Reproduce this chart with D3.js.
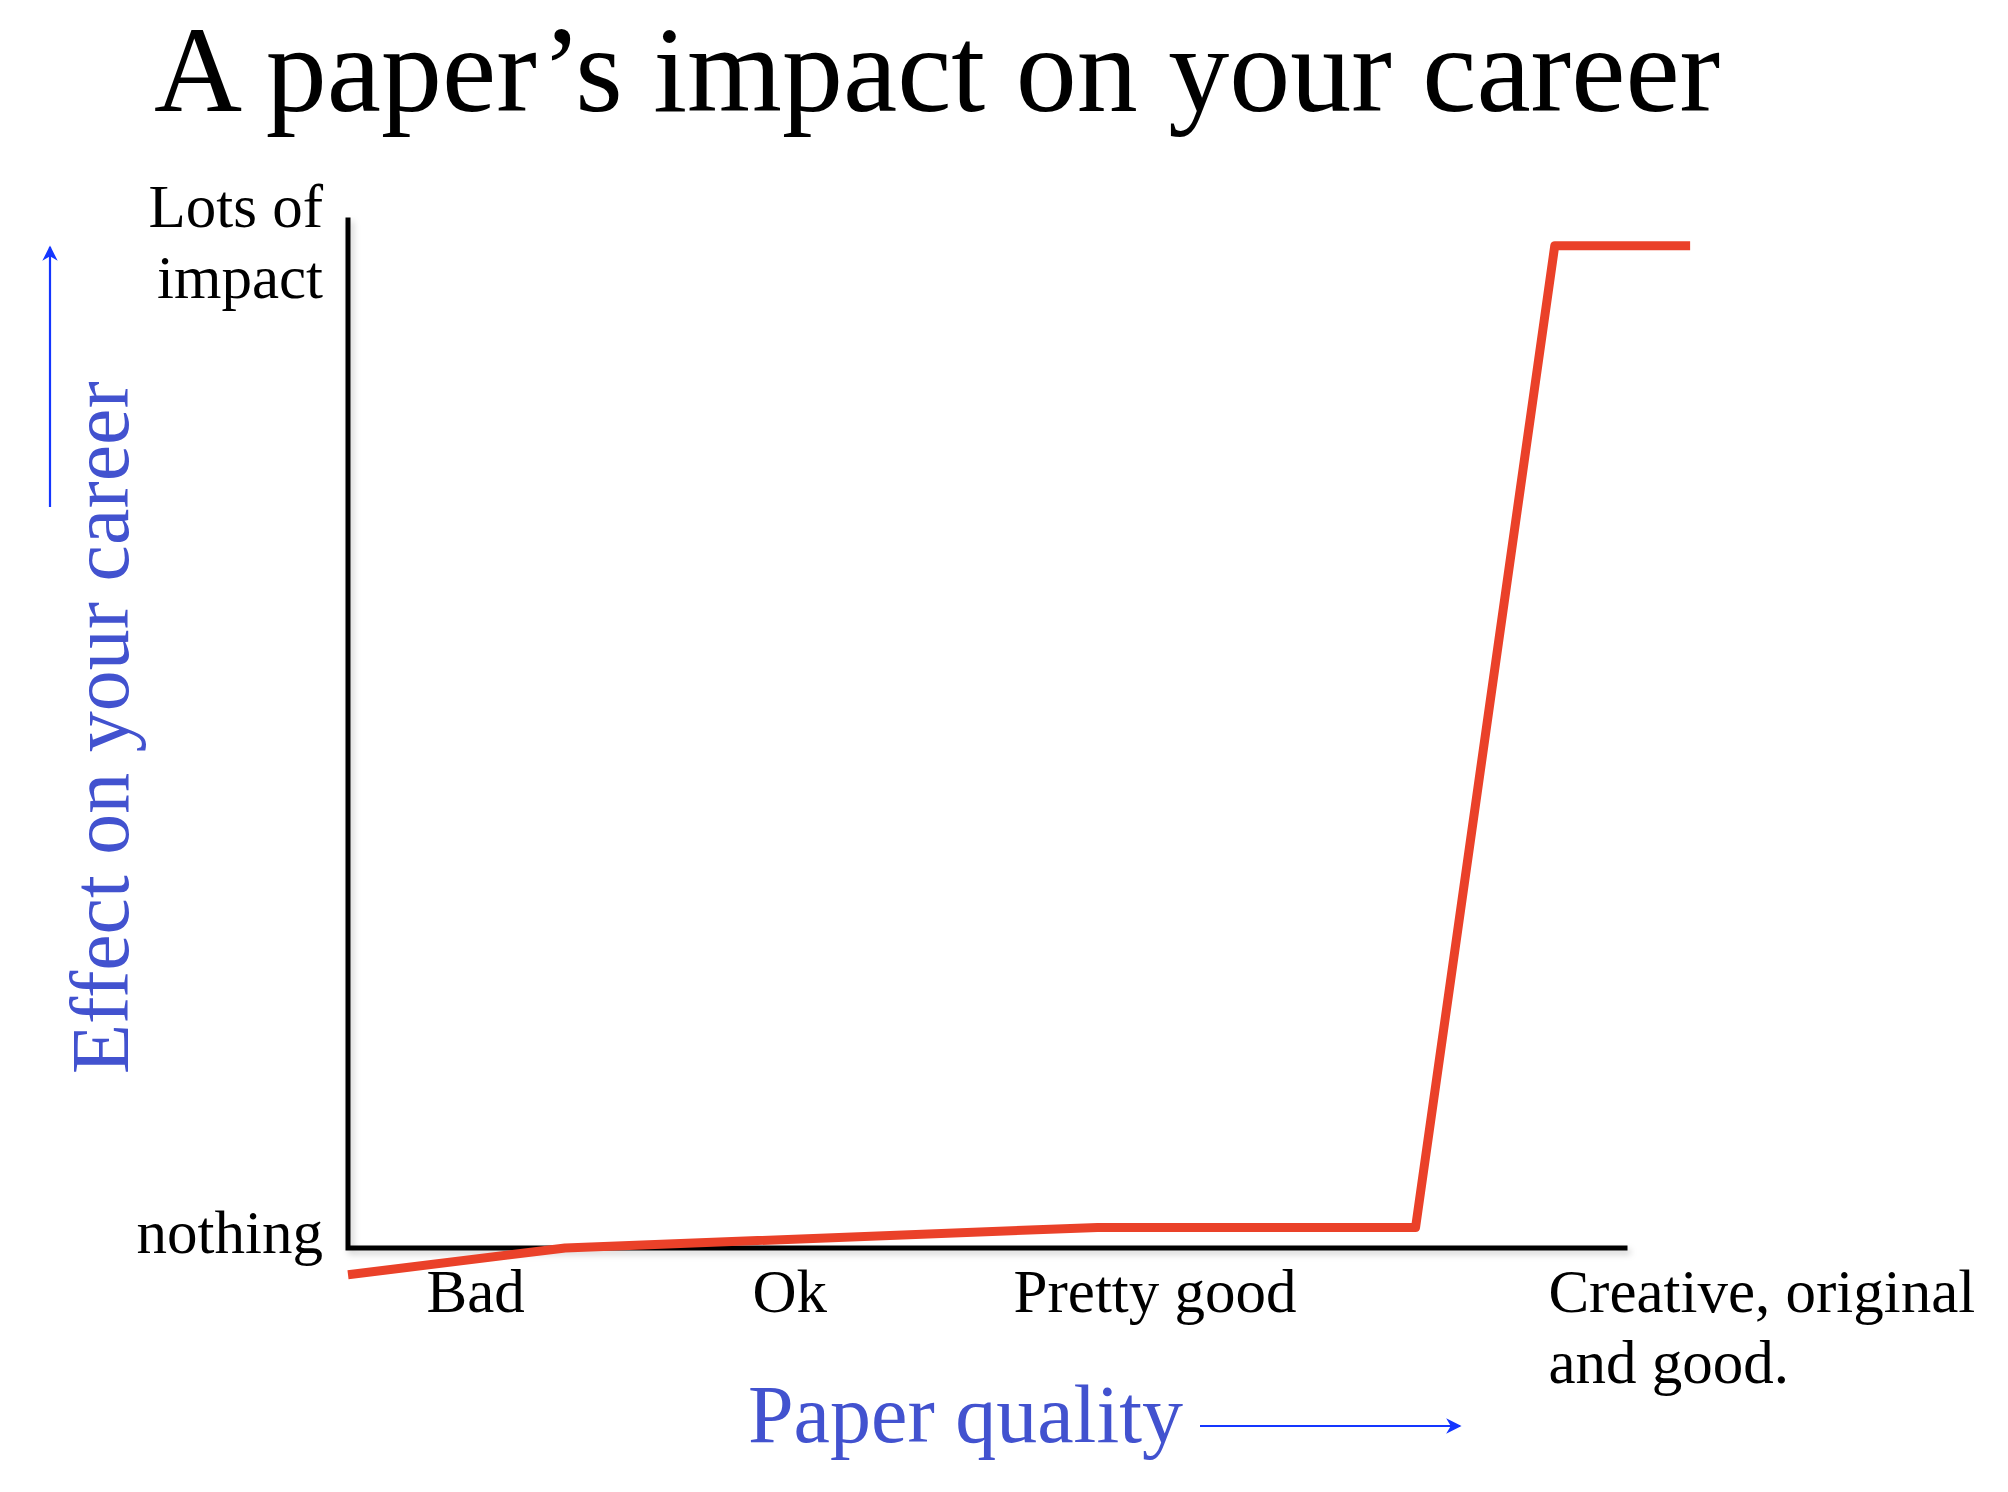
<!DOCTYPE html>
<meta charset="utf-8">
<style>
body { margin: 0; background: #fff; }
text { font-family: "Times New Roman", "Liberation Serif", serif; }
</style>
<svg width="2008" height="1492"></svg>
<script src="https://d3js.org/d3.v7.min.js"></script>
<script>

// data (quality 0..100 along x, impact 0..100 up y)
var quality = [0, 17, 58.7, 83.6, 94.5, 105.1];
var impact  = [-2.6, 0, 2.0, 2.0, 97.5, 97.5];

var xTickVals = [10, 34.6, 63.2, 94.0];
var xTickText = [["Bad"], ["Ok"], ["Pretty good"], ["Creative, original", "and good."]];
var yTickVals = [0, 100];
var yTickText = [["nothing"], ["Lots of", "impact"]];

var red_colour = "#ea4129";
var label_colour = "#4252cf";
var arrow_colour = "#1436ff";

var svg = d3.select("svg");

var x = d3.scaleLinear().domain([0, 100]).range([348, 1625]);
var y = d3.scaleLinear().domain([0, 100]).range([1248, 220]);

var defs = svg.append("defs");
var f = defs.append("filter").attr("id", "shadow")
    .attr("x", "-10%").attr("y", "-10%").attr("width", "130%").attr("height", "130%");
f.append("feDropShadow")
    .attr("dx", 3).attr("dy", 4).attr("stdDeviation", 3)
    .attr("flood-color", "#000").attr("flood-opacity", 0.18);

defs.append("marker")
    .attr("id", "arrowhead")
    .attr("viewBox", "0 0 10 10")
    .attr("refX", 9).attr("refY", 5)
    .attr("markerWidth", 7).attr("markerHeight", 7)
    .attr("markerUnits", "strokeWidth")
    .attr("orient", "auto")
    .append("path")
    .attr("d", "M0,0 L10,5 L0,10 L3,5 Z")
    .attr("fill", arrow_colour);

// title
svg.append("text")
   .attr("x", 154)
   .attr("y", 111)
   .style("font-size", "122px")
   .text("A paper\u2019s impact on your career");

// axes
var axes = svg.append("g").attr("filter", "url(#shadow)");
axes.append("path")
    .attr("d", "M" + x(0) + "," + y(100) + " V" + y(0) + " H" + x(100))
    .attr("fill", "none")
    .attr("stroke", "#000")
    .attr("stroke-width", 5)
    .attr("stroke-linecap", "square");

// the red curve
var pts = quality.map(function(q, i) { return [q, impact[i]]; });
var line = d3.line().x(function(d) { return x(d[0]); }).y(function(d) { return y(d[1]); });
svg.append("path")
   .attr("d", line(pts))
   .attr("fill", "none")
   .attr("stroke", red_colour)
   .attr("stroke-width", 9)
   .attr("stroke-linejoin", "round");

// x labels
xTickVals.forEach(function(v, i) {
  var t = svg.append("text")
     .attr("x", x(v))
     .attr("y", 1312)
     .style("font-size", "61px")
     .attr("text-anchor", i == xTickVals.length - 1 ? "start" : "middle");
  xTickText[i].forEach(function(s, j) {
    t.append("tspan").attr("x", x(v)).attr("dy", j == 0 ? 0 : 71).text(s);
  });
});

// y labels
var yOffsets = [5, 7];
yTickVals.forEach(function(v, i) {
  var t = svg.append("text")
     .attr("x", 323)
     .attr("y", y(v) + yOffsets[i])
     .style("font-size", "61px")
     .attr("text-anchor", "end");
  yTickText[i].forEach(function(s, j) {
    t.append("tspan").attr("x", 323).attr("dy", j == 0 ? 0 : 71).text(s);
  });
});

// axis titles
svg.append("text")
   .attr("x", 748)
   .attr("y", 1442)
   .style("font-size", "82px")
   .style("fill", label_colour)
   .text("Paper quality");

svg.append("text")
   .attr("transform", "translate(128,1074) rotate(-90)")
   .style("font-size", "82px")
   .style("fill", label_colour)
   .text("Effect on your career");

// arrows
svg.append("line")
   .attr("x1", 1200).attr("y1", 1426).attr("x2", 1460).attr("y2", 1426)
   .attr("stroke", arrow_colour).attr("stroke-width", 2.2)
   .attr("marker-end", "url(#arrowhead)");

svg.append("line")
   .attr("x1", 50).attr("y1", 507).attr("x2", 50).attr("y2", 247)
   .attr("stroke", arrow_colour).attr("stroke-width", 2.2)
   .attr("marker-end", "url(#arrowhead)");

</script>
